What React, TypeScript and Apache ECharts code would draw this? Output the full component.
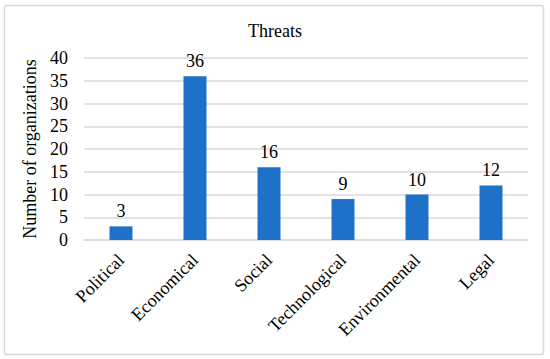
import React, { useEffect, useRef } from "react";
import * as echarts from "echarts";

const categories = ["Political", "Economical", "Social", "Technological", "Environmental", "Legal"];
const values = [3, 36, 16, 9, 10, 12];
const yTicks = { min: 0, max: 40, interval: 5 };
const titleText = "Threats";
const yAxisName = "Number of organizations";

const FONT = "Liberation Serif, Times New Roman, serif";

export default function App() {
  const ref = useRef<HTMLDivElement>(null);
  useEffect(() => {
    if (!ref.current) return;
    const chart = echarts.init(ref.current, undefined, { renderer: "svg" });
    chart.setOption({
      animation: false,
      backgroundColor: "#ffffff",
      title: {
        text: titleText,
        left: "center",
        top: 17,
        textStyle: { fontFamily: FONT, fontSize: 18, fontWeight: "normal", color: "#000" },
      },
      graphic: [
        {
          type: "rect",
          shape: { x: 4.5, y: 5.5, width: 539, height: 349, r: 2 },
          style: { fill: "none", stroke: "#d9d9d9", lineWidth: 1.5 },
          silent: true,
        },
      ],
      grid: { left: 84, right: 22, top: 58, bottom: 119 },
      xAxis: {
        type: "category",
        data: categories,
        axisLine: { show: true, lineStyle: { color: "#d9d9d9", width: 1.5 } },
        axisTick: { show: false },
        axisLabel: {
          rotate: 45,
          margin: 17,
          interval: 0,
          fontFamily: FONT,
          fontSize: 18,
          color: "#000",
        },
      },
      yAxis: {
        type: "value",
        min: yTicks.min,
        max: yTicks.max,
        interval: yTicks.interval,
        name: yAxisName,
        nameLocation: "middle",
        nameGap: 31,
        nameTextStyle: { fontFamily: FONT, fontSize: 18, color: "#000" },
        axisLine: { show: false },
        axisTick: { show: false },
        splitLine: { lineStyle: { color: "#d9d9d9", width: 1.5 } },
        axisLabel: { margin: 16, fontFamily: FONT, fontSize: 18, color: "#000" },
      },
      series: [
        {
          type: "bar",
          data: values,
          barWidth: 23,
          itemStyle: { color: "#1f70c8" },
          label: {
            show: true,
            position: "top",
            distance: 6,
            fontFamily: FONT,
            fontSize: 18,
            color: "#000",
          },
        },
      ],
    });
    return () => chart.dispose();
  }, []);
  return (
    <div
      ref={ref}
      style={{ position: "fixed", left: 0, top: 0, width: 550, height: 359, background: "#fff" }}
    />
  );
}
